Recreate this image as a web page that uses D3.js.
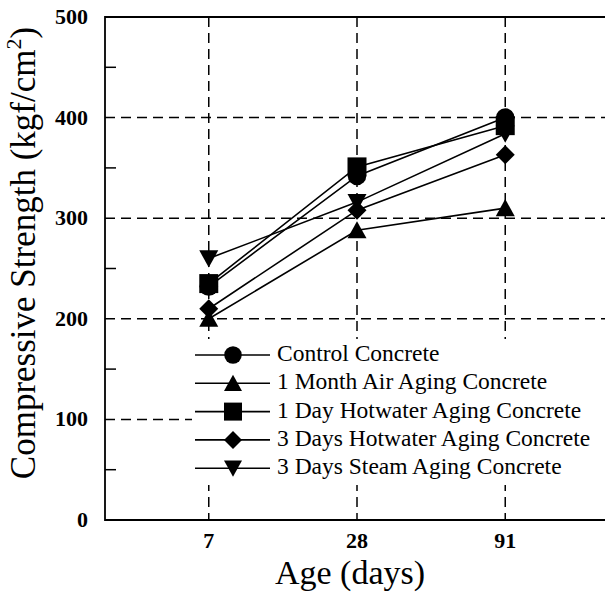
<!DOCTYPE html>
<html>
<head>
<meta charset="utf-8">
<script src="https://cdn.jsdelivr.net/npm/d3@7"></script>
<style>
  body { margin: 0; background: #fff; }
</style>
</head>
<body>
<svg id="chart" width="605" height="594"></svg>
<script>
const ages = ["7", "28", "91"];
const yTicks = [0, 100, 200, 300, 400, 500];
const seriesNames = ["Control Concrete", "1 Month Air Aging Concrete", "1 Day Hotwater Aging Concrete",
  "3 Days Hotwater Aging Concrete", "3 Days Steam Aging Concrete"];
const seriesSymbols = ["circle", "triangleUp", "square", "diamond", "triangleDown"];
const control = [232, 342, 400];
const airAging = [200, 288, 310];
const hotwater1 = [235, 351, 392];
const hotwater3 = [210, 308, 363];
const steam3 = [260, 316, 384];
const allSeries = [control, airAging, hotwater1, hotwater3, steam3];

const svg = d3.select("#chart").attr("font-family", "Liberation Serif");
const plotLeft = 105, plotRight = 609, plotTop = 17, plotBottom = 520;

const x = d3.scalePoint().domain(ages).range([plotLeft, plotRight]).padding(0.7);
const y = d3.scaleLinear().domain([0, 500]).range([plotBottom, plotTop]);

// marker paths, centred on 0,0
function marker(kind, s) {
  const h = s / 2;
  if (kind == "circle") return d3.symbol(d3.symbolCircle, Math.PI * h * h * 0.95)();
  if (kind == "square") return `M${-h},${-h}H${h}V${h}H${-h}Z`;
  if (kind == "diamond") return `M0,${-h}L${h},0L0,${h}L${-h},0Z`;
  if (kind == "triangleUp") return `M0,${-h * 0.95}L${h},${h * 0.85}L${-h},${h * 0.85}Z`;
  return `M0,${h * 0.95}L${h},${-h * 0.85}L${-h},${-h * 0.85}Z`;
}

// grid
const grid = svg.append("g")
  .attr("stroke", "#000")
  .attr("stroke-width", 1.5)
  .attr("stroke-dasharray", "10,6");
grid.selectAll("line.h")
  .data([100, 200, 300, 400])
  .enter().append("line")
  .attr("x1", plotLeft).attr("x2", plotRight)
  .attr("y1", d => y(d)).attr("y2", d => y(d));
grid.selectAll("line.v")
  .data(ages)
  .enter().append("line")
  .attr("x1", d => x(d)).attr("x2", d => x(d))
  .attr("y1", plotTop).attr("y2", plotBottom);

// series
const line = d3.line().x((d, i) => x(ages[i])).y(d => y(d));
allSeries.forEach((vals, k) => {
  svg.append("path")
    .attr("d", line(vals))
    .attr("fill", "none")
    .attr("stroke", "#000")
    .attr("stroke-width", 1.6);
});
allSeries.forEach((vals, k) => {
  svg.selectAll(null)
    .data(vals)
    .enter().append("path")
    .attr("d", marker(seriesSymbols[k], 19))
    .attr("transform", (d, i) => "translate(" + [x(ages[i]), y(d)] + ")")
    .attr("fill", "#000");
});

// legend
const legend = svg.append("g");
legend.append("rect")
  .attr("x", 192).attr("y", 339)
  .attr("width", 413).attr("height", 146)
  .attr("fill", "#fff");
seriesNames.forEach((name, k) => {
  const ly = 355 + k * 28.3;
  legend.append("line")
    .attr("x1", 195).attr("x2", 270)
    .attr("y1", ly).attr("y2", ly)
    .attr("stroke", "#000").attr("stroke-width", 1.6);
  legend.append("path")
    .attr("d", marker(seriesSymbols[k], 18))
    .attr("transform", "translate(" + [233, ly] + ")");
  legend.append("text")
    .attr("x", 277).attr("y", ly + 6)
    .attr("font-size", 23.5)
    .text(name);
});

// frame
const frame = svg.append("g").attr("stroke", "#000").attr("stroke-width", 1.8).attr("fill", "none");
frame.append("path").attr("d", `M${plotRight},${plotTop}H${plotLeft}V${plotBottom}H${plotRight}`);

// y axis ticks and labels
svg.append("g")
  .selectAll("line")
  .data(d3.range(50, 500, 100))
  .enter().append("line")
  .attr("x1", plotLeft).attr("x2", plotLeft + 11)
  .attr("y1", d => y(d)).attr("y2", d => y(d))
  .attr("stroke", "#000").attr("stroke-width", 1.5);
svg.append("g")
  .selectAll("text")
  .data(yTicks)
  .enter().append("text")
  .attr("x", 88).attr("y", d => y(d) + 7)
  .attr("text-anchor", "end")
  .attr("font-size", 22)
  .attr("font-weight", "bold")
  .text(d => d);

// x axis labels
svg.append("g")
  .selectAll("text")
  .data(ages)
  .enter().append("text")
  .attr("x", d => x(d)).attr("y", 548)
  .attr("text-anchor", "middle")
  .attr("font-size", 22)
  .attr("font-weight", "bold")
  .text(d => d);

// axis titles
svg.append("text")
  .attr("x", 350).attr("y", 584)
  .attr("text-anchor", "middle")
  .attr("font-size", 34)
  .text("Age (days)");

const yt = svg.append("text")
  .attr("transform", "translate(35,253) rotate(-90)")
  .attr("text-anchor", "middle")
  .attr("font-size", 35);
yt.append("tspan").text("Compressive Strength (kgf/cm");
yt.append("tspan").attr("font-size", 22).attr("dy", -14).text("2");
yt.append("tspan").attr("dy", 14).text(")");
</script>
</body>
</html>
